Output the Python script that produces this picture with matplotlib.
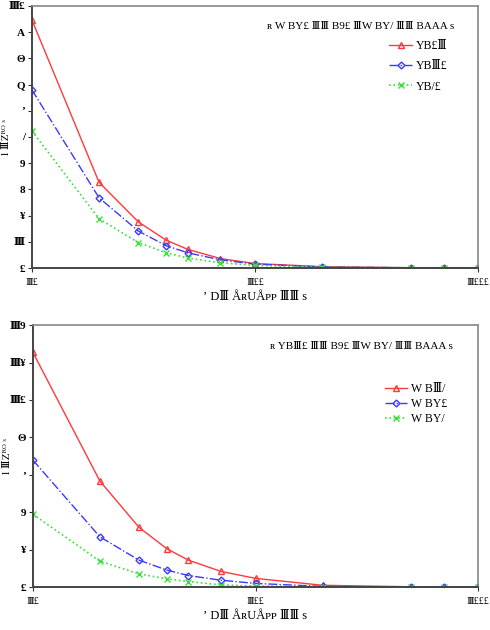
import numpy as np
import matplotlib.pyplot as plt
from matplotlib.ticker import FixedLocator, FixedFormatter, NullLocator

plt.rcParams['font.family'] = ['Liberation Serif', 'DejaVu Serif', 'DejaVu Sans']

# data
x = [10, 20, 30, 40, 50, 70, 100, 200, 500, 700, 1000]

top_red = [9.47, 3.27, 1.76, 1.06, 0.71, 0.36, 0.17, 0.05, 0.01, 0.01, 0.01]
top_blue = [6.8, 2.68, 1.41, 0.85, 0.58, 0.31, 0.15, 0.04, 0.01, 0.01, 0.01]
top_green = [5.23, 1.88, 0.97, 0.58, 0.38, 0.2, 0.1, 0.03, 0.01, 0.01, 0.01]

bot_red = [12.55, 5.67, 3.19, 2.05, 1.44, 0.84, 0.47, 0.1, 0.02, 0.01, 0.01]
bot_blue = [6.79, 2.69, 1.44, 0.91, 0.62, 0.37, 0.2, 0.04, 0.01, 0.01, 0.01]
bot_green = [3.9, 1.39, 0.71, 0.44, 0.3, 0.12, 0.06, 0.02, 0.01, 0.01, 0.01]

# garbled glyphs as they appear in the reference
digit = {0: '£', 1: 'Ⅲ', 2: '¥', 3: '8', 4: '9', 5: '/', 6: 'ʼ', 7: 'Q', 8: 'Θ', 9: 'A'}

def glyphs(n):
    return ''.join(digit[int(c)] for c in str(n))

x_ticks = [10, 100, 1000]
top_yticks = list(range(0, 11))
bot_yticks = list(range(0, 15, 2))

xlabel = 'ʼ DⅢ ÅʀUÅᴘᴘ ⅢⅢ s'
ylabel = 'l ⅢZᴿᴼ ˢ'
top_title = 'ʀ W BY£ ⅢⅢ B9£ ⅢW BY/ ⅢⅢ BAAA s'
bot_title = 'ʀ YBⅢ£ ⅢⅢ B9£ ⅢW BY/ ⅢⅢ BAAA s'
top_labels = ['YB£Ⅲ', 'YBⅢ£', 'YB/£']
bot_labels = ['W BⅢ/', 'W BY£', 'W BY/']

red = '#ff3a3a'
blue = '#3a3aff'
green = '#3ae03a'

fig = plt.figure(figsize=(4.9, 6.3), dpi=100)
ax1 = fig.add_axes([0.065, 0.5746, 0.911, 0.416])
ax2 = fig.add_axes([0.067, 0.068, 0.909, 0.416])

panels = [
    (ax1, top_red, top_blue, top_green, top_yticks, 10, top_title, top_labels, 0.84, 0.7),
    (ax2, bot_red, bot_blue, bot_green, bot_yticks, 14, bot_title, bot_labels, 0.75, 0.25),
]

for ax, r, b, g, yt, ymax, title, labels, ly, spacing in panels:
    ax.plot(x, r, '-', color=red, lw=1.0, marker='^', mfc='none', mec=red, ms=5, label=labels[0])
    ax.plot(x, b, '-.', color=blue, lw=1.0, marker='D', mfc='none', mec=blue, ms=3.5, label=labels[1])
    ax.plot(x, g, ':', color=green, lw=1.2, marker='x', ms=4.5, label=labels[2])
    ax.set_xscale('log')
    ax.set_xlim(10, 1000)
    ax.set_ylim(0, ymax)
    ax.xaxis.set_major_locator(FixedLocator(x_ticks))
    ax.xaxis.set_major_formatter(FixedFormatter([glyphs(v) for v in x_ticks]))
    ax.xaxis.set_minor_locator(NullLocator())
    ax.yaxis.set_major_locator(FixedLocator(yt))
    ax.yaxis.set_major_formatter(FixedFormatter([glyphs(v) for v in yt]))
    ax.tick_params(axis='both', labelsize=8, length=3, width=0.8, direction='out', pad=2,
                   colors='#333333', labelcolor='black')
    ax.tick_params(axis='x', pad=4, labelsize=7)
    for lab in ax.get_yticklabels():
        lab.set_fontweight('bold')
    for s in ['left', 'bottom']:
        ax.spines[s].set_color('#444444')
        ax.spines[s].set_linewidth(1.4)
    for s in ['top', 'right']:
        ax.spines[s].set_color('#888888')
        ax.spines[s].set_linewidth(1.2)
    ax.set_xlabel(xlabel, fontsize=9, labelpad=3)
    ax.set_ylabel(ylabel, fontsize=8)
    ax.yaxis.set_label_coords(-0.047, 0.5)
    ax.text(0.737, 0.92, title, transform=ax.transAxes, ha='center', va='center', fontsize=8)
    ax.legend(loc='upper right', bbox_to_anchor=(0.93, ly + 0.03), frameon=False, fontsize=8.5,
              handlelength=1.9, handletextpad=0.3, labelspacing=spacing, borderaxespad=0,
              borderpad=0)

fig.savefig('out.png', dpi=100)
